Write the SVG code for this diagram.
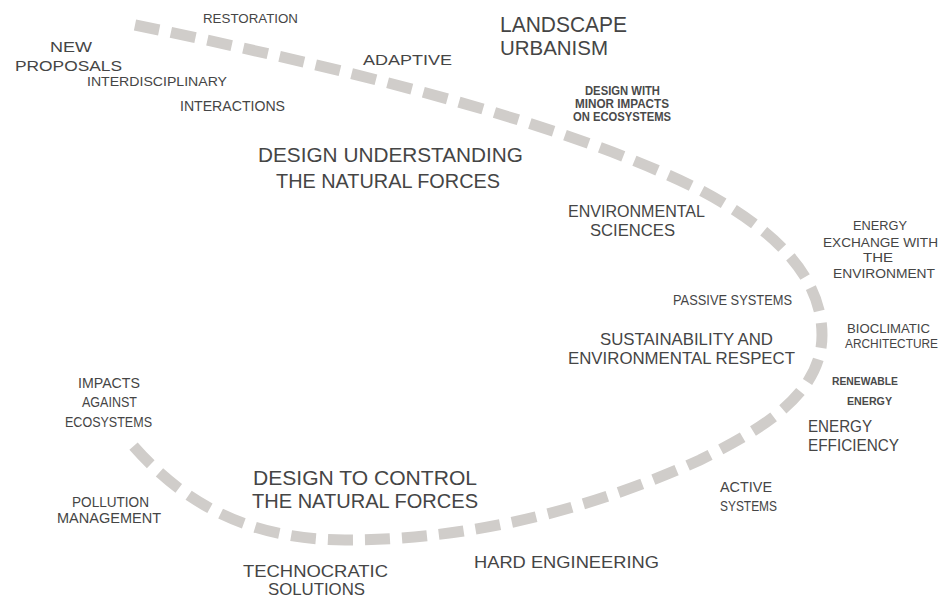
<svg xmlns="http://www.w3.org/2000/svg" width="941" height="600" viewBox="0 0 941 600">
<style>
.t{font-family:"Liberation Sans","DejaVu Sans",sans-serif;fill:#454545;}
.b{font-weight:bold;fill:#4a4a4a;}
.curve{fill:none;stroke:#d0cdca;stroke-width:11;stroke-dasharray:25 12;}
</style>
<rect width="941" height="600" fill="#ffffff"/>
<g id="connectors">
<path class="curve" d="M135,25 C330,65 560,120 700,190 C780,232 822,280 822,335 C822,395 760,430 700,460 C600,505 480,540 345,540 C240,540 175,495 130,442"/>
</g>
<g id="restoration"><text class="t" font-size="13" x="203" y="23" textLength="95" lengthAdjust="spacingAndGlyphs">RESTORATION</text></g>
<g id="new-proposals">
<text class="t" font-size="15" x="50" y="52" textLength="42" lengthAdjust="spacingAndGlyphs">NEW</text>
<text class="t" font-size="15" x="15" y="71" textLength="107" lengthAdjust="spacingAndGlyphs">PROPOSALS</text>
</g>
<g id="interdisciplinary"><text class="t" font-size="13" x="87" y="86" textLength="140" lengthAdjust="spacingAndGlyphs">INTERDISCIPLINARY</text></g>
<g id="interactions"><text class="t" font-size="14" x="180" y="111" textLength="105" lengthAdjust="spacingAndGlyphs">INTERACTIONS</text></g>
<g id="adaptive"><text class="t" font-size="15" x="363" y="65" textLength="89" lengthAdjust="spacingAndGlyphs">ADAPTIVE</text></g>
<g id="landscape-urbanism">
<text class="t" font-size="22" x="500" y="32" textLength="127" lengthAdjust="spacingAndGlyphs">LANDSCAPE</text>
<text class="t" font-size="21" x="500" y="55" textLength="108" lengthAdjust="spacingAndGlyphs">URBANISM</text>
</g>
<g id="design-minor-impacts">
<text class="t b" font-size="12" x="585" y="95" textLength="75" lengthAdjust="spacingAndGlyphs">DESIGN WITH</text>
<text class="t b" font-size="12" x="575" y="108" textLength="94" lengthAdjust="spacingAndGlyphs">MINOR IMPACTS</text>
<text class="t b" font-size="12" x="573" y="121" textLength="98" lengthAdjust="spacingAndGlyphs">ON ECOSYSTEMS</text>
</g>
<g id="design-understanding">
<text class="t" font-size="21" x="258" y="162" textLength="265" lengthAdjust="spacingAndGlyphs">DESIGN UNDERSTANDING</text>
<text class="t" font-size="21" x="276" y="188" textLength="224" lengthAdjust="spacingAndGlyphs">THE NATURAL FORCES</text>
</g>
<g id="environmental-sciences">
<text class="t" font-size="16" x="568" y="217" textLength="137" lengthAdjust="spacingAndGlyphs">ENVIRONMENTAL</text>
<text class="t" font-size="16" x="590" y="236" textLength="85" lengthAdjust="spacingAndGlyphs">SCIENCES</text>
</g>
<g id="passive-systems"><text class="t" font-size="15" x="673" y="305" textLength="119" lengthAdjust="spacingAndGlyphs">PASSIVE SYSTEMS</text></g>
<g id="sustainability">
<text class="t" font-size="16.5" x="600" y="345" textLength="173" lengthAdjust="spacingAndGlyphs">SUSTAINABILITY AND</text>
<text class="t" font-size="16.5" x="568" y="364" textLength="227" lengthAdjust="spacingAndGlyphs">ENVIRONMENTAL RESPECT</text>
</g>
<g id="energy-exchange">
<text class="t" font-size="12" x="853" y="230" textLength="54" lengthAdjust="spacingAndGlyphs">ENERGY</text>
<text class="t" font-size="12" x="823" y="247" textLength="115" lengthAdjust="spacingAndGlyphs">EXCHANGE WITH</text>
<text class="t" font-size="12" x="863" y="262" textLength="30" lengthAdjust="spacingAndGlyphs">THE</text>
<text class="t" font-size="12" x="833" y="278" textLength="102" lengthAdjust="spacingAndGlyphs">ENVIRONMENT</text>
</g>
<g id="bioclimatic">
<text class="t" font-size="12" x="847" y="333" textLength="83" lengthAdjust="spacingAndGlyphs">BIOCLIMATIC</text>
<text class="t" font-size="12" x="845" y="348" textLength="93" lengthAdjust="spacingAndGlyphs">ARCHITECTURE</text>
</g>
<g id="renewable-energy">
<text class="t b" font-size="11.5" x="832" y="385" textLength="66" lengthAdjust="spacingAndGlyphs">RENEWABLE</text>
<text class="t b" font-size="11.5" x="847" y="405" textLength="45" lengthAdjust="spacingAndGlyphs">ENERGY</text>
</g>
<g id="energy-efficiency">
<text class="t" font-size="17" x="808" y="432" textLength="64" lengthAdjust="spacingAndGlyphs">ENERGY</text>
<text class="t" font-size="17" x="808" y="451" textLength="91" lengthAdjust="spacingAndGlyphs">EFFICIENCY</text>
</g>
<g id="active-systems">
<text class="t" font-size="14" x="720" y="492" textLength="52" lengthAdjust="spacingAndGlyphs">ACTIVE</text>
<text class="t" font-size="14" x="720" y="511" textLength="57" lengthAdjust="spacingAndGlyphs">SYSTEMS</text>
</g>
<g id="hard-engineering"><text class="t" font-size="17" x="474" y="568" textLength="185" lengthAdjust="spacingAndGlyphs">HARD ENGINEERING</text></g>
<g id="technocratic">
<text class="t" font-size="17" x="243" y="577" textLength="145" lengthAdjust="spacingAndGlyphs">TECHNOCRATIC</text>
<text class="t" font-size="17" x="268" y="595" textLength="97" lengthAdjust="spacingAndGlyphs">SOLUTIONS</text>
</g>
<g id="design-control">
<text class="t" font-size="20" x="253" y="485" textLength="224" lengthAdjust="spacingAndGlyphs">DESIGN TO CONTROL</text>
<text class="t" font-size="20" x="252" y="508" textLength="226" lengthAdjust="spacingAndGlyphs">THE NATURAL FORCES</text>
</g>
<g id="pollution">
<text class="t" font-size="14" x="72" y="507" textLength="77" lengthAdjust="spacingAndGlyphs">POLLUTION</text>
<text class="t" font-size="14" x="57" y="523" textLength="104" lengthAdjust="spacingAndGlyphs">MANAGEMENT</text>
</g>
<g id="impacts">
<text class="t" font-size="14" x="78" y="388" textLength="62" lengthAdjust="spacingAndGlyphs">IMPACTS</text>
<text class="t" font-size="14" x="82" y="407" textLength="55" lengthAdjust="spacingAndGlyphs">AGAINST</text>
<text class="t" font-size="14" x="65" y="427" textLength="87" lengthAdjust="spacingAndGlyphs">ECOSYSTEMS</text>
</g>
</svg>
